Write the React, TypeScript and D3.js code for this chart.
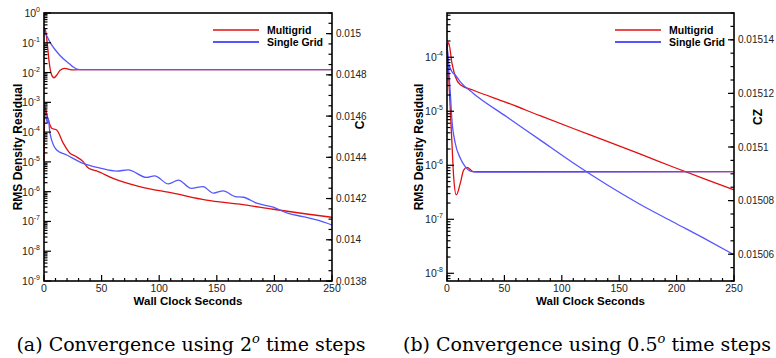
import * as d3 from 'd3';

// ---- panel (a): 2 deg time steps ----
const aMgResT = [0, 0.8, 3, 6.7, 11, 16.8, 22.6, 27, 34, 38.5, 45.7, 60, 83, 112, 141, 170, 199, 228, 250];
const aMgRes = [1.1e-5, 6.8e-4, 3.2e-4, 1.35e-4, 1.17e-4, 4.2e-5, 1.95e-5, 1.58e-5, 1.02e-5, 6.2e-6, 5.0e-6, 2.8e-6, 1.48e-6, 8.9e-7, 5.2e-7, 3.8e-7, 2.57e-7, 1.78e-7, 1.38e-7];
const aSgResT = [0.9, 2.9, 3.7, 5.2, 11, 19.7, 34, 48.6, 63, 73, 89, 96, 108, 116.6, 128, 138, 147, 155.6, 166, 173, 184.6, 199, 212, 225, 236.7, 250];
const aSgRes = [6.3e-4, 2.04e-4, 2.9e-4, 9.1e-5, 2.5e-5, 1.7e-5, 8.9e-6, 6.2e-6, 4.9e-6, 5.4e-6, 3.0e-6, 3.4e-6, 1.82e-6, 2.45e-6, 1.29e-6, 1.48e-6, 8.9e-7, 1.07e-6, 6.8e-7, 6.5e-7, 4.1e-7, 3.0e-7, 1.86e-7, 1.45e-7, 1.12e-7, 7.6e-8];
const aMgCzT = [0, 1.5, 3, 4.5, 6.5, 8.7, 11, 14, 18, 24, 30, 250];
const aMgCz = [0.01503, 0.015011, 0.014943, 0.014861, 0.014802, 0.014786, 0.014798, 0.014822, 0.014831, 0.014824, 0.014825, 0.014825];
const aSgCzT = [0, 5.2, 13.9, 22.6, 25.4, 31, 250];
const aSgCz = [0.015018, 0.014959, 0.014894, 0.014851, 0.014838, 0.014825, 0.014825];
const aRightTicks = [0.0138, 0.014, 0.0142, 0.0144, 0.0146, 0.0148, 0.015];
const aLeftExps = [0, -1, -2, -3, -4, -5, -6, -7, -8, -9];

// ---- panel (b): 0.5 deg time steps ----
const bMgResT = [0, 1.4, 4.3, 7.2, 11.6, 23, 52, 81, 110, 139, 168, 197, 226, 250];
const bMgRes = [1.38e-4, 1.86e-4, 7.8e-5, 4.4e-5, 3.1e-5, 2.45e-5, 1.45e-5, 8.3e-6, 4.8e-6, 2.8e-6, 1.62e-6, 9.3e-7, 5.4e-7, 3.5e-7];
const bSgResT = [0, 1.4, 4.3, 7.2, 11.6, 23, 52, 81, 110, 139, 168, 197, 226, 250];
const bSgRes = [1.82e-4, 7.8e-5, 5.4e-5, 4.7e-5, 3.5e-5, 2.14e-5, 7.9e-6, 2.95e-6, 1.1e-6, 4.4e-7, 1.9e-7, 8.9e-8, 4.2e-8, 2.2e-8];
const bMgCzT = [0, 2.9, 4.3, 5.8, 8.1, 11.6, 14.5, 17.4, 23, 250];
const bMgCz = [0.0151387, 0.0151138, 0.0151015, 0.0150889, 0.0150821, 0.0150865, 0.0150914, 0.0150924, 0.0150908, 0.0150908];
const bSgCzT = [0, 2.9, 4.3, 7.2, 11.6, 16, 20.3, 26, 250];
const bSgCz = [0.0151381, 0.01512, 0.0151101, 0.0151014, 0.0150958, 0.0150926, 0.015091, 0.0150906, 0.0150908];
const bRightTicks = [0.01506, 0.01508, 0.0151, 0.01512, 0.01514];
const bLeftExps = [-4, -5, -6, -7, -8];

const xTicks = [0, 50, 100, 150, 200, 250];
const seriesNames = ['Multigrid', 'Single Grid'];

const RED = '#e01010';
const BLUE = '#5656ff';
const SANS = '"Liberation Sans", Arial, Helvetica, sans-serif';

interface PanelProps {
  x0: number;
  x1: number;
  y0: number;
  y1: number;
  resDomain: [number, number];
  czDomain: [number, number];
  czMinorStep: number;
  leftExps: number[];
  rightTicks: number[];
  mg: [number[], number[]];
  sg: [number[], number[]];
  mgCz: [number[], number[]];
  sgCz: [number[], number[]];
  yLabelX: number;
  czLabel: string;
  czLabelX: number;
  czLabelY: number;
  legendX: number;
  caption: [string, string];
  captionX: number;
}

function Panel(p: PanelProps) {
  const x = d3.scaleLinear().domain([0, 250]).range([p.x0, p.x1]);
  const yRes = d3.scaleLog().domain(p.resDomain).range([p.y1, p.y0]);
  const yCz = d3.scaleLinear().domain(p.czDomain).range([p.y1, p.y0]);

  const resLine = d3
    .line<[number, number]>()
    .x((d) => x(d[0]))
    .y((d) => yRes(d[1]))
    .curve(d3.curveMonotoneX);
  const czLine = d3
    .line<[number, number]>()
    .x((d) => x(d[0]))
    .y((d) => yCz(d[1]))
    .curve(d3.curveMonotoneX);
  const zip = (s: [number[], number[]]) => s[0].map((t, i) => [t, s[1][i]] as [number, number]);

  // log minor ticks
  const [lo, hi] = p.resDomain;
  const logMinor: number[] = [];
  for (let e = Math.floor(Math.log10(lo)); e <= Math.ceil(Math.log10(hi)); e++) {
    for (let m = 2; m <= 9; m++) {
      const v = m * Math.pow(10, e);
      if (v >= lo && v <= hi) logMinor.push(v);
    }
  }
  const czMinor = d3.range(
    Math.ceil(p.czDomain[0] / p.czMinorStep - 1e-6) * p.czMinorStep,
    p.czDomain[1] + 1e-12,
    p.czMinorStep
  );
  const xMinor = d3.range(0, 251, 10);
  const cx = (p.x0 + p.x1) / 2;
  const cy = (p.y0 + p.y1) / 2;

  return (
    <g>
      <g fill="none" strokeWidth={1.3}>
        <path d={resLine(zip(p.mg)) || ''} stroke={RED} />
        <path d={czLine(zip(p.mgCz)) || ''} stroke={RED} />
        <path d={resLine(zip(p.sg)) || ''} stroke={BLUE} />
        <path d={czLine(zip(p.sgCz)) || ''} stroke={BLUE} />
      </g>

      {/* ticks */}
      <g stroke="#000" strokeWidth={1.2}>
        {xMinor.map((t) => (
          <line key={'xm' + t} x1={x(t)} x2={x(t)} y1={p.y1} y2={p.y1 - (t % 50 === 0 ? 6 : 3)} />
        ))}
        {logMinor.map((v, i) => (
          <line key={'lm' + i} x1={p.x0} x2={p.x0 + 3.5} y1={yRes(v)} y2={yRes(v)} />
        ))}
        {p.leftExps.map((e) => (
          <line key={'lM' + e} x1={p.x0} x2={p.x0 + 7} y1={yRes(Math.pow(10, e))} y2={yRes(Math.pow(10, e))} />
        ))}
        {czMinor.map((v, i) => (
          <line key={'rm' + i} x1={p.x1} x2={p.x1 - 3.5} y1={yCz(v)} y2={yCz(v)} />
        ))}
        {p.rightTicks.map((v) => (
          <line key={'rM' + v} x1={p.x1} x2={p.x1 - 6} y1={yCz(v)} y2={yCz(v)} />
        ))}
      </g>

      <rect x={p.x0} y={p.y0} width={p.x1 - p.x0} height={p.y1 - p.y0} fill="none" stroke="#000" strokeWidth={1.6} />

      {/* tick labels */}
      <g fontFamily={SANS} fontSize={10} fill="#222">
        {xTicks.map((t) => (
          <text key={'xl' + t} x={x(t)} y={p.y1 + 10.5} textAnchor="middle" fontSize={10.5}>
            {t}
          </text>
        ))}
        {p.leftExps.map((e) => (
          <text key={'ll' + e} x={p.x0 - 4} y={yRes(Math.pow(10, e)) + 4} textAnchor="end" fontSize={10.5}>
            10
            <tspan dy={-5} fontSize={7}>
              {e}
            </tspan>
          </text>
        ))}
        {p.rightTicks.map((v) => (
          <text key={'rl' + v} x={p.x1 + 4} y={yCz(v) + 3.5}>
            {String(v)}
          </text>
        ))}
      </g>

      {/* axis titles */}
      <g fontFamily={SANS} fontWeight="bold" fill="#000">
        <text x={cx} y={p.y1 + 24} textAnchor="middle" fontSize={11.5}>
          Wall Clock Seconds
        </text>
        <text
          transform={`translate(${p.yLabelX},${cy}) rotate(-90)`}
          textAnchor="middle"
          fontSize={12}
        >
          RMS Density Residual
        </text>
        <text
          transform={`translate(${p.czLabelX},${p.czLabelY}) rotate(-90)`}
          textAnchor="middle"
          fontSize={12}
        >
          {p.czLabel}
        </text>
      </g>

      {/* legend */}
      <g fontFamily={SANS} fontWeight="bold" fontSize={10.5} fill="#000">
        {seriesNames.map((n, i) => (
          <g key={n}>
            <line
              x1={p.legendX}
              x2={p.legendX + 46}
              y1={30 + i * 12}
              y2={30 + i * 12}
              stroke={i === 0 ? RED : BLUE}
              strokeWidth={i === 0 ? 1.3 : 1.8}
            />
            <text x={p.legendX + 54} y={34 + i * 12}>
              {n}
            </text>
          </g>
        ))}
      </g>

      {/* caption */}
      <text x={p.captionX} y={351} textAnchor="middle" fontFamily='"DejaVu Serif", "Liberation Serif", serif' fontSize={19} fill="#000">
        {p.caption[0]}
        <tspan dy={-8} fontSize={13} fontStyle="italic">
          o
        </tspan>
        <tspan dy={8}>{p.caption[1]}</tspan>
      </text>
    </g>
  );
}

export default function App() {
  return (
    <div style={{ position: 'absolute', left: 0, top: 0, width: 776, height: 358, background: '#fff' }}>
      <svg width={776} height={358}>
        <Panel
          x0={44}
          x1={332}
          y0={13}
          y1={281}
          resDomain={[1e-9, 1]}
          czDomain={[0.0138, 0.0151]}
          czMinorStep={0.00005}
          leftExps={aLeftExps}
          rightTicks={aRightTicks}
          mg={[aMgResT, aMgRes]}
          sg={[aSgResT, aSgRes]}
          mgCz={[aMgCzT, aMgCz]}
          sgCz={[aSgCzT, aSgCz]}
          yLabelX={22}
          czLabel="C"
          czLabelX={364}
          czLabelY={125}
          legendX={213}
          caption={['(a) Convergence using 2', ' time steps']}
          captionX={191}
        />
        <Panel
          x0={447}
          x1={734}
          y0={13}
          y1={281}
          resDomain={[7.2e-9, 6.6e-4]}
          czDomain={[0.01505, 0.01515]}
          czMinorStep={0.000005}
          leftExps={bLeftExps}
          rightTicks={bRightTicks}
          mg={[bMgResT, bMgRes]}
          sg={[bSgResT, bSgRes]}
          mgCz={[bMgCzT, bMgCz]}
          sgCz={[bSgCzT, bSgCz]}
          yLabelX={423}
          czLabel="CZ"
          czLabelX={762}
          czLabelY={117}
          legendX={615}
          caption={['(b) Convergence using 0.5', ' time steps']}
          captionX={587}
        />
      </svg>
    </div>
  );
}
